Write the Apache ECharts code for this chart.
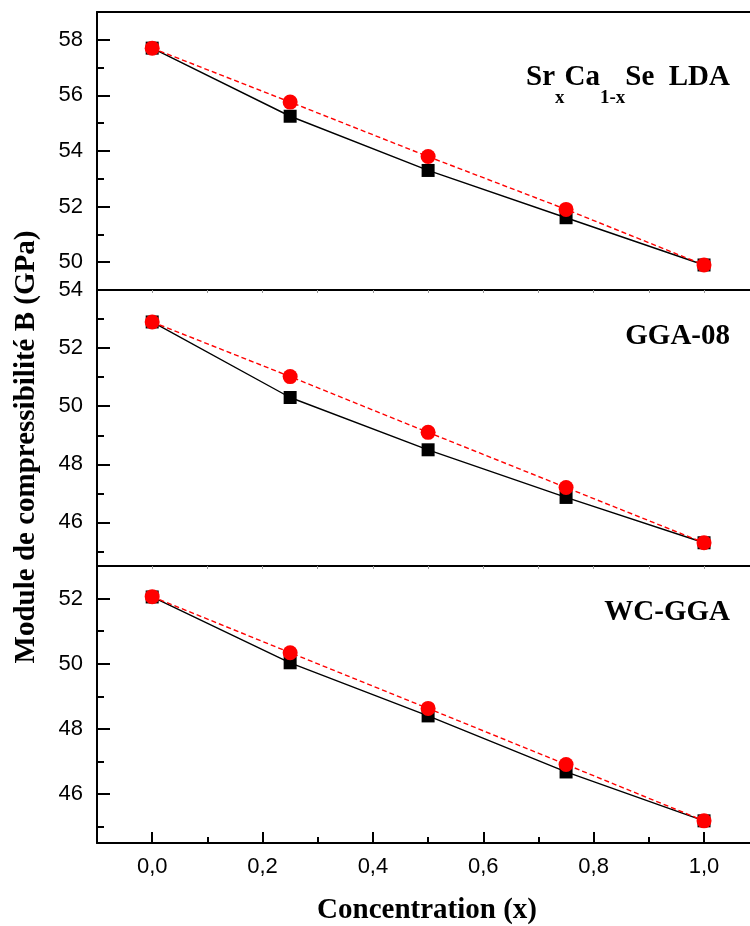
<!DOCTYPE html>
<html>
<head>
<meta charset="utf-8">
<script src="https://cdn.jsdelivr.net/npm/echarts@6/dist/echarts.min.js"></script>
<style>
html,body{margin:0;padding:0;background:#fff;}
#chart{width:750px;height:926px;}
</style>
</head>
<body>
<div id="chart"></div>
<script>
// ---- data ----
const concentration = [0, 0.25, 0.5, 0.75, 1.0];
const ldaBlack = [57.7, 55.25, 53.3, 51.6, 49.9];
const ldaRed   = [57.7, 55.76, 53.8, 51.9, 49.9];
const ggaBlack = [52.9, 50.3, 48.5, 46.86, 45.3];
const ggaRed   = [52.9, 51.02, 49.1, 47.2, 45.3];
const wcBlack  = [52.05, 50.03, 48.4, 46.68, 45.18];
const wcRed    = [52.06, 50.34, 48.63, 46.91, 45.18];
const xMajorTicks = [0, 0.2, 0.4, 0.6, 0.8, 1.0];
const xMinorTicks = [0.1, 0.3, 0.5, 0.7, 0.9];
const ldaMajor = [50, 52, 54, 56, 58];
const ldaMinor = [51, 53, 55, 57];
const ggaMajor = [46, 48, 50, 52, 54];
const ggaMinor = [45, 47, 49, 51, 53];
const wcMajor  = [46, 48, 50, 52];
const wcMinor  = [45, 47, 49, 51];
const panelNames = ['GGA-08', 'WC-GGA'];
const xTitle = 'Concentration (x)';
const yTitle = 'Module de compressibilité B (GPa)';

const chart = echarts.init(document.getElementById('chart'), null, {renderer: 'canvas'});

const L = 97, W = 653;
const X_MIN = -0.1, X_MAX = 1.0833;
const panels = [
  {top: 12, height: 278, min: 49, max: 59, major: ldaMajor, minor: ldaMinor},
  {top: 290, height: 276, min: 44.5, max: 54, major: ggaMajor, minor: ggaMinor},
  {top: 566, height: 277, min: 44.5, max: 53, major: wcMajor, minor: wcMinor}
];
const grids = [];
panels.forEach(p => grids.push({left: L, width: W, top: p.top, height: p.height, containLabel: false}));
panels.forEach(p => grids.push({left: L, width: W, top: p.top, height: p.height, containLabel: false}));

const lineStyleAxis = {show: true, onZero: false, lineStyle: {color: '#000', width: 2}};
const xBase = {type: 'value', min: X_MIN, max: X_MAX, splitLine: {show: false}};
const xAxes = [
  Object.assign({}, xBase, {gridIndex: 0, position: 'bottom', axisLine: lineStyleAxis,
    axisTick: {show: true, inside: false, length: 3, customValues: xMajorTicks.concat(xMinorTicks), lineStyle: {color: '#999', width: 1}}, axisLabel: {show: false}}),
  Object.assign({}, xBase, {gridIndex: 1, position: 'bottom', axisLine: lineStyleAxis,
    axisTick: {show: true, inside: false, length: 3, customValues: xMajorTicks.concat(xMinorTicks), lineStyle: {color: '#999', width: 1}}, axisLabel: {show: false}}),
  Object.assign({}, xBase, {gridIndex: 2, position: 'bottom', axisLine: lineStyleAxis,
    axisTick: {show: true, inside: true, length: 11, customValues: xMajorTicks, lineStyle: {color: '#000', width: 2}},
    axisLabel: {show: true, customValues: xMajorTicks, margin: 13, fontSize: 22, color: '#000', fontFamily: 'Liberation Sans',
      formatter: v => v.toFixed(1).replace('.', ',')}}),
  Object.assign({}, xBase, {gridIndex: 3, position: 'top', axisLine: lineStyleAxis, axisTick: {show: false}, axisLabel: {show: false}}),
  Object.assign({}, xBase, {gridIndex: 4, show: false}),
  Object.assign({}, xBase, {gridIndex: 5, position: 'bottom', axisLine: {show: false, onZero: false},
    axisTick: {show: true, inside: true, length: 6, customValues: xMinorTicks, lineStyle: {color: '#000', width: 2}}, axisLabel: {show: false}})
];
const yAxes = [];
panels.forEach((p, i) => {
  yAxes.push({type: 'value', gridIndex: i, min: p.min, max: p.max, position: 'left', splitLine: {show: false},
    axisLine: lineStyleAxis,
    axisTick: {show: true, inside: true, length: 13, customValues: p.major, lineStyle: {color: '#000', width: 2}},
    axisLabel: {show: true, customValues: p.major, margin: 14, fontSize: 22, color: '#000', fontFamily: 'Liberation Sans',
      showMinLabel: true, showMaxLabel: true}});
});
panels.forEach((p, i) => {
  yAxes.push({type: 'value', gridIndex: i + 3, min: p.min, max: p.max, position: 'left', splitLine: {show: false},
    axisLine: {show: false, onZero: false},
    axisTick: {show: true, inside: true, length: 7, customValues: p.minor, lineStyle: {color: '#000', width: 2}},
    axisLabel: {show: false}});
});

function pairs(ys) { return concentration.map((x, i) => [x, ys[i]]); }
const blackSets = [ldaBlack, ggaBlack, wcBlack];
const redSets = [ldaRed, ggaRed, wcRed];
const series = [];
blackSets.forEach((ys, i) => {
  series.push({type: 'line', xAxisIndex: i, yAxisIndex: i, data: pairs(ys), symbol: 'rect', symbolSize: 13,
    itemStyle: {color: '#000'}, lineStyle: {color: '#000', width: 1.4}, z: 3});
});
redSets.forEach((ys, i) => {
  series.push({type: 'line', xAxisIndex: i, yAxisIndex: i, data: pairs(ys), symbol: 'circle', symbolSize: 15,
    itemStyle: {color: '#ff0000'}, lineStyle: {color: '#ff0000', width: 1.4, type: [5, 3]}, z: 4});
});

const serif = 'Liberation Serif';
const graphic = [
  {type: 'text', right: 20, top: 63,
    style: {text: '{m|Sr}{s|x}{m|Ca}{s|1-x}{m|Se  LDA}', fill: '#000',
      rich: {
        m: {fontSize: 29, fontWeight: 'bold', fontFamily: serif, lineHeight: 29, padding: [0, 0, 16, 0], verticalAlign: 'bottom', fill: '#000'},
        s: {fontSize: 19, fontWeight: 'bold', fontFamily: serif, lineHeight: 19, verticalAlign: 'bottom', fill: '#000'}
      }}},
  {type: 'text', x: 730, y: 337, style: {text: panelNames[0], fontSize: 29, fontWeight: 'bold', fontFamily: serif, fill: '#000', align: 'right', verticalAlign: 'middle'}},
  {type: 'text', x: 730, y: 613, style: {text: panelNames[1], fontSize: 29, fontWeight: 'bold', fontFamily: serif, fill: '#000', align: 'right', verticalAlign: 'middle'}},
  {type: 'text', x: 427, y: 911, style: {text: xTitle, fontSize: 29, fontWeight: 'bold', fontFamily: serif, fill: '#000', align: 'center', verticalAlign: 'middle'}},
  {type: 'text', x: 27, y: 447, rotation: Math.PI / 2, style: {text: yTitle, fontSize: 29, fontWeight: 'bold', fontFamily: serif, fill: '#000', align: 'center', verticalAlign: 'middle'}}
];

chart.setOption({
  animation: false,
  backgroundColor: '#fff',
  grid: grids,
  xAxis: xAxes,
  yAxis: yAxes,
  series: series,
  graphic: graphic
});
</script>
</body>
</html>
